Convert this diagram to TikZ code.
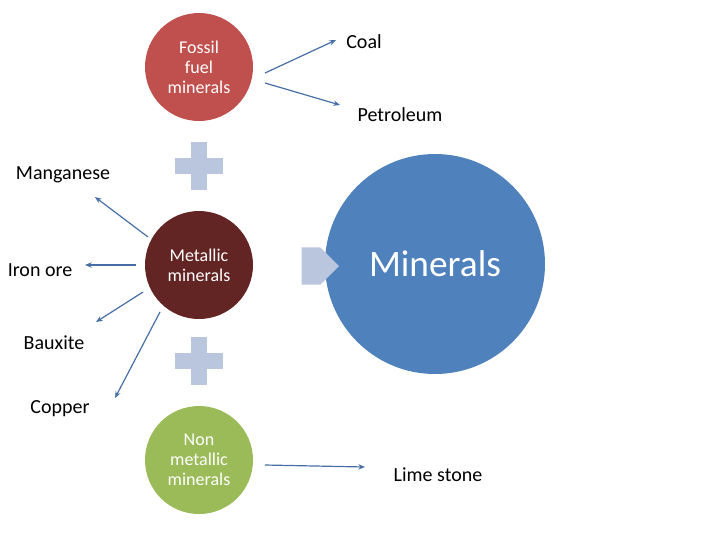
\documentclass[tikz,border=0pt]{standalone}
\usepackage{fontspec}
\setmainfont{Carlito}
\usetikzlibrary{arrows.meta,shapes.arrows}
\definecolor{fossil}{RGB}{192,80,77}
\definecolor{metal}{RGB}{99,37,35}
\definecolor{nonmetal}{RGB}{155,187,89}
\definecolor{mineral}{RGB}{79,129,189}
\definecolor{plusc}{RGB}{185,198,222}
\definecolor{linec}{RGB}{70,110,165}
\tikzset{
 circ/.style={circle,minimum size=81pt,inner sep=0pt,text=white,font=\fontsize{13.5}{15}\selectfont,align=center},
 lbl/.style={font=\fontsize{15}{17}\selectfont,inner sep=1pt},
 conn/.style={draw=linec,line width=0.9pt,-{Stealth[length=5pt,width=4pt]}},
 plusbar/.style={fill=plusc,draw=none}
}
\begin{document}
\begin{tikzpicture}[x=0.75pt,y=-0.75pt]
\useasboundingbox (0,0) rectangle (720,540);
\node[circ,fill=fossil] (f) at (199,67) {Fossil\\fuel\\minerals};
\node[circ,fill=metal] (m) at (199,265) {Metallic\\minerals};
\node[circ,fill=nonmetal] (n) at (199,460) {Non\\metallic\\minerals};
\node[circle,fill=mineral,minimum size=165pt,inner sep=0pt,text=white,font=\fontsize{28}{30}\selectfont] (M) at (435,264) {Minerals};
\foreach \y in {166,361}{
 \fill[plusc] (175,\y-8) rectangle (223,\y+8);
 \fill[plusc] (191,\y-24) rectangle (207,\y+24);
}
\node[single arrow,fill=plusc,minimum height=28pt,minimum width=28pt,single arrow head extend=0pt,inner sep=0pt] (ar) at (311,266) {};
\node[lbl] (coal) at (364,42) {Coal};
\node[lbl] (pet) at (400,115) {Petroleum};
\node[lbl] (mn) at (63,175) {Manganese};
\node[lbl] (iron) at (40,270) {Iron ore};
\node[lbl] (bx) at (54,343) {Bauxite};
\node[lbl] (cu) at (60,409) {Copper};
\node[lbl] (ls) at (438,475) {Lime stone};
\coordinate (c1) at (336,40);
\coordinate (c2) at (340,105);
\coordinate (c3) at (95,197);
\coordinate (c4) at (85,265);
\coordinate (c5) at (96,322);
\coordinate (c6) at (115,398);
\coordinate (c7) at (365,467);
\coordinate (s1) at (265,73);
\coordinate (s2) at (265,83);
\coordinate (s3) at (148,237);
\coordinate (s4) at (136,265);
\coordinate (s5) at (143,292);
\coordinate (s6) at (160,312);
\coordinate (s7) at (265,465);
\draw[conn] (s1) -- (c1);
\draw[conn] (s2) -- (c2);
\draw[conn] (s3) -- (c3);
\draw[conn] (s4) -- (c4);
\draw[conn] (s5) -- (c5);
\draw[conn] (s6) -- (c6);
\draw[conn] (s7) -- (c7);
\end{tikzpicture}
\end{document}
